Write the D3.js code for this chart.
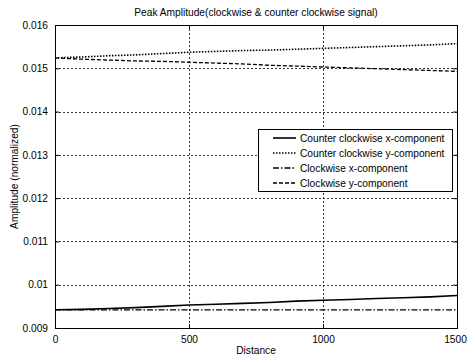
<!DOCTYPE html>
<html>
<head>
<meta charset="utf-8">
<script src="https://cdn.jsdelivr.net/npm/d3@7"></script>
<style>
  body { margin: 0; background: #fff; }
  text { font-family: "Liberation Sans", Arial, sans-serif; fill: #000; }
</style>
</head>
<body>
<svg width="467" height="358"></svg>
<script>
// distance samples
var distance = [0, 100, 200, 300, 400, 500, 600, 700, 800, 900, 1000, 1100, 1200, 1300, 1400, 1500];

var ccwX = [0.00942, 0.00943, 0.00945, 0.00947, 0.00950, 0.00953, 0.00955, 0.00957,
            0.00959, 0.00962, 0.00964, 0.00966, 0.00968, 0.00970, 0.00972, 0.00975];
var ccwY = [0.01524, 0.01526, 0.01529, 0.01531, 0.01534, 0.01537, 0.01539, 0.01541,
            0.01542, 0.01544, 0.01546, 0.01548, 0.01550, 0.01552, 0.01554, 0.01557];
var cwX = [0.00942, 0.00942, 0.00942, 0.00942, 0.00942, 0.00942, 0.00942, 0.00942,
           0.00942, 0.00942, 0.00942, 0.00942, 0.00942, 0.00942, 0.00942, 0.00942];
var cwY = [0.01524, 0.01521, 0.01519, 0.01517, 0.01516, 0.01514, 0.01512, 0.01510,
           0.01507, 0.01505, 0.01503, 0.01501, 0.01499, 0.01497, 0.01495, 0.01493];

var xTicks = [0, 500, 1000, 1500];
var yTicks = [0.009, 0.01, 0.011, 0.012, 0.013, 0.014, 0.015, 0.016];
var yTickLabels = ["0.009", "0.01", "0.011", "0.012", "0.013", "0.014", "0.015", "0.016"];

var seriesNames = ["Counter clockwise x-component", "Counter clockwise y-component",
                   "Clockwise x-component", "Clockwise y-component"];
var seriesValues = [ccwX, ccwY, cwX, cwY];
var dashes = [null, "1.5,1.5", "6,2,1.5,2", "4,2"];
var widths = [1.6, 1.6, 1.3, 1.3];

var FS = "10.2px";

var svg = d3.select("svg"),
    margin = {top: 25, right: 10, bottom: 30, left: 55},
    width = 467 - margin.left - margin.right,
    height = 328 - margin.top,
    g = svg.append("g").attr("transform", "translate(" + margin.left + "," + margin.top + ")");

var x = d3.scaleLinear().domain([0, 1500]).range([0, width]),
    y = d3.scaleLinear().domain([0.009, 0.016]).range([height, 0]);

// grid
g.append("g").selectAll("line")
    .data(yTicks.slice(1, -1))
  .enter().append("line")
    .attr("x1", 0).attr("x2", width)
    .attr("y1", function(d) { return Math.round(y(d)) + 0.5; })
    .attr("y2", function(d) { return Math.round(y(d)) + 0.5; })
    .attr("stroke", "#000").attr("stroke-width", 0.8)
    .attr("stroke-dasharray", "2,2");

g.append("g").selectAll("line")
    .data(xTicks.slice(1, -1))
  .enter().append("line")
    .attr("y1", 0).attr("y2", height)
    .attr("x1", function(d) { return Math.round(x(d)) + 0.5; })
    .attr("x2", function(d) { return Math.round(x(d)) + 0.5; })
    .attr("stroke", "#000").attr("stroke-width", 0.8)
    .attr("stroke-dasharray", "2,2");

// axes
var xAxis = g.append("g")
    .attr("transform", "translate(0," + height + ")")
    .call(d3.axisBottom(x).tickValues(xTicks).tickSize(-4).tickPadding(8).tickFormat(d3.format("d")));
g.append("g")
    .call(d3.axisLeft(y).tickValues(yTicks).tickSize(-4).tickPadding(7)
      .tickFormat(function(d, i) { return yTickLabels[i]; }));
// mirrored ticks
g.append("g").attr("transform", "translate(" + width + ",0)")
    .call(d3.axisRight(y).tickValues(yTicks).tickSize(-4).tickFormat(""));
g.append("g")
    .call(d3.axisTop(x).tickValues(xTicks).tickSize(-4).tickFormat(""));

g.selectAll(".domain").remove();
g.selectAll(".tick line").attr("stroke", "#000");
g.selectAll(".tick text").style("font-size", FS).style("font-family", "Liberation Sans, Arial, sans-serif");
// keep the last x label inside the window
xAxis.selectAll(".tick text").filter(function(d) { return d === 1500; }).attr("dx", "-2px");

g.append("rect")
    .attr("x", 0.5).attr("y", 0.5)
    .attr("width", width).attr("height", height)
    .attr("fill", "none").attr("stroke", "#000");

// lines
var line = d3.line()
    .x(function(d, i) { return x(distance[i]); })
    .y(function(d) { return y(d); });

seriesValues.forEach(function (vals, i) {
  g.append("path")
    .attr("d", line(vals))
    .attr("fill", "none")
    .attr("stroke", "#000")
    .attr("stroke-width", widths[i])
    .attr("stroke-dasharray", dashes[i]);
});

// legend
var leg = svg.append("g").attr("transform", "translate(258,129)");
leg.append("rect")
    .attr("x", 0.5).attr("y", 0.5).attr("width", 194).attr("height", 62)
    .attr("fill", "#fff").attr("stroke", "#000");
seriesNames.forEach(function (name, i) {
  var yy = 9 + i * 15;
  leg.append("line")
    .attr("x1", 15).attr("x2", 38).attr("y1", yy).attr("y2", yy)
    .attr("stroke", "#000").attr("stroke-width", widths[i])
    .attr("stroke-dasharray", dashes[i]);
  leg.append("text")
    .attr("x", 42).attr("y", yy).attr("dy", "0.35em")
    .style("font-size", FS)
    .text(name);
});

// titles
svg.append("text")
    .attr("x", margin.left + width / 2).attr("y", 16)
    .attr("text-anchor", "middle")
    .style("font-size", FS)
    .text("Peak Amplitude(clockwise & counter clockwise signal)");
svg.append("text")
    .attr("x", margin.left + width / 2).attr("y", 354)
    .attr("text-anchor", "middle")
    .style("font-size", FS)
    .text("Distance");
svg.append("text")
    .attr("transform", "translate(18," + (margin.top + height / 2) + ") rotate(-90)")
    .attr("text-anchor", "middle")
    .style("font-size", FS)
    .text("Amplitude (normalized)");
</script>
</body>
</html>
